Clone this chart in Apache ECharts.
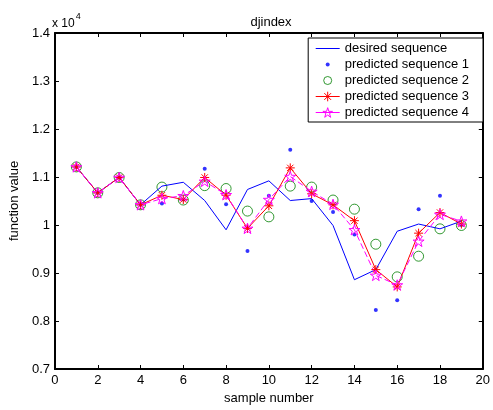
<!DOCTYPE html>
<html>
<head>
<meta charset="utf-8">
<script src="https://cdn.jsdelivr.net/npm/echarts@6/dist/echarts.min.js"></script>
<style>html,body{margin:0;padding:0;background:#fff}#c{width:493px;height:410px}</style>
</head>
<body>
<div id="c"></div>
<script>
var samples = [1,2,3,4,5,6,7,8,9,10,11,12,13,14,15,16,17,18,19];
var desired = [1.121,1.067,1.099,1.042,1.081,1.089,1.051,0.990,1.074,1.092,1.051,1.055,0.999,0.886,0.907,0.987,1.002,0.992,1.008];
var pred1 = [1.121,1.067,1.099,1.042,1.045,1.053,1.117,1.043,0.946,1.061,1.157,1.050,1.027,0.980,0.823,0.843,1.033,1.061,1.000];
var pred2 = [1.121,1.067,1.099,1.042,1.079,1.052,1.082,1.076,1.029,1.017,1.081,1.079,1.052,1.033,0.960,0.892,0.935,0.992,0.999];
var pred3 = [1.121,1.067,1.099,1.042,1.062,1.053,1.099,1.062,0.993,1.040,1.119,1.065,1.042,1.009,0.907,0.871,0.983,1.026,1.002];
var pred4 = [1.121,1.067,1.099,1.042,1.055,1.061,1.091,1.063,0.993,1.053,1.101,1.070,1.043,0.990,0.895,0.875,0.966,1.022,1.008];
var seriesNames = ['desired sequence','predicted sequence 1','predicted sequence 2','predicted sequence 3','predicted sequence 4'];
var xTicks = {min:0, max:20, interval:2};
var yTicks = {min:0.7, max:1.4, interval:0.1};

function pairs(v){ return samples.map(function(x,i){ return [x, v[i]]; }); }
var asterisk = 'path://M0,-10L0,10M-10,0L10,0M-7,-7L7,7M-7,7L7,-7';
var pentagram = 'path://M0,-10L2.245,-3.09L9.51,-3.09L3.633,1.18L5.878,8.09L0,3.82L-5.878,8.09L-3.633,1.18L-9.51,-3.09L-2.245,-3.09Z';
var smallDot = 'path://M-6,-6L-6,-6M6,6L6,6M0,-2A2,2,0,1,1,0,2A2,2,0,1,1,0,-2Z';
var smallRing = 'path://M-6,-6L-6,-6M6,6L6,6M0,-4A4,4,0,1,1,0,4A4,4,0,1,1,0,-4Z';
var font = 'Liberation Sans, Arial, sans-serif';
var fs = 13;

var baseAxis = {
  axisLine:{show:true, onZero:false, lineStyle:{color:'#000', width:2}},
  axisTick:{show:true, inside:true, length:4, lineStyle:{color:'#000', width:1}},
  splitLine:{show:false},
  axisLabel:{color:'#000', fontSize:fs, fontFamily:font, margin:5}
};
function ax(extra){ return Object.assign({}, JSON.parse(JSON.stringify(baseAxis)), extra); }

var chart = echarts.init(document.getElementById('c'), null, {renderer:'canvas'});
chart.setOption({
  animation:false,
  backgroundColor:'#fff',
  title:{text:'djindex', left:266, top:11, textAlign:'center',
    textStyle:{fontSize:fs, fontWeight:'normal', color:'#000', fontFamily:font}},
  grid:{left:53, right:8, top:33, bottom:36},
  xAxis:[
    ax({type:'value', min:xTicks.min, max:xTicks.max, interval:xTicks.interval, position:'bottom',
      name:'sample number', nameLocation:'middle', nameGap:23,
      nameTextStyle:{color:'#000', fontSize:fs, fontFamily:font}}),
    ax({type:'value', min:xTicks.min, max:xTicks.max, interval:xTicks.interval, position:'top',
      axisLabel:{show:false}})
  ],
  yAxis:[
    ax({type:'value', min:yTicks.min, max:yTicks.max, interval:yTicks.interval, position:'left',
      name:'function value', nameLocation:'middle', nameGap:31,
      nameTextStyle:{color:'#000', fontSize:fs, fontFamily:font}}),
    ax({type:'value', min:yTicks.min, max:yTicks.max, interval:yTicks.interval, position:'right',
      axisLabel:{show:false}})
  ],
  legend:{
    orient:'vertical', right:10, top:38, padding:[4,14,3,7],
    borderColor:'#000', borderWidth:1, backgroundColor:'#fff',
    itemWidth:24, itemHeight:12, itemGap:3, symbolKeepAspect:true,
    textStyle:{fontSize:fs, color:'#000', fontFamily:font, lineHeight:12},
    data:[
      {name:seriesNames[0], itemStyle:{opacity:0}, lineStyle:{width:1}},
      {name:seriesNames[1], icon:smallDot, itemStyle:{color:'#0000ff', borderWidth:0}},
      {name:seriesNames[2], icon:smallRing, itemStyle:{color:'rgba(0,0,0,0)', borderColor:'#008000', borderWidth:1}},
      {name:seriesNames[3], itemStyle:{color:'#ff0000', borderColor:'#ff0000', borderWidth:1}, lineStyle:{width:1}},
      {name:seriesNames[4], itemStyle:{color:'rgba(0,0,0,0)', borderColor:'#ff00ff', borderWidth:1}, lineStyle:{type:'solid', width:1}}
    ]
  },
  graphic:[{
    type:'text', left:52, top:12,
    style:{text:'{a|x 10}{b|4}', rich:{a:{fontSize:12, fontFamily:font, fill:'#000', padding:[6,0,0,0]}, b:{fontSize:9, fontFamily:font, fill:'#000', verticalAlign:'top', padding:[0,0,0,1]}}}
  }],
  series:[
    {name:seriesNames[0], type:'line', data:pairs(desired), showSymbol:false, symbol:'none',
      lineStyle:{color:'#0000ff', width:1}, itemStyle:{color:'#0000ff'}},
    {name:seriesNames[1], type:'scatter', data:pairs(pred1), symbol:'circle', symbolSize:4,
      itemStyle:{color:'#0000ff'}},
    {name:seriesNames[2], type:'scatter', data:pairs(pred2), symbol:'circle', symbolSize:10,
      itemStyle:{color:'rgba(0,0,0,0)', borderColor:'#008000', borderWidth:1}},
    {name:seriesNames[3], type:'line', data:pairs(pred3), symbol:asterisk, symbolSize:9, symbolKeepAspect:true,
      lineStyle:{color:'#ff0000', width:1}, itemStyle:{color:'#ff0000', borderColor:'#ff0000', borderWidth:1}},
    {name:seriesNames[4], type:'line', data:pairs(pred4), symbol:pentagram, symbolSize:11, symbolKeepAspect:true,
      lineStyle:{color:'#ff00ff', width:1, type:[6,3]}, itemStyle:{color:'rgba(0,0,0,0)', borderColor:'#ff00ff', borderWidth:1}}
  ]
});
</script>
</body>
</html>
